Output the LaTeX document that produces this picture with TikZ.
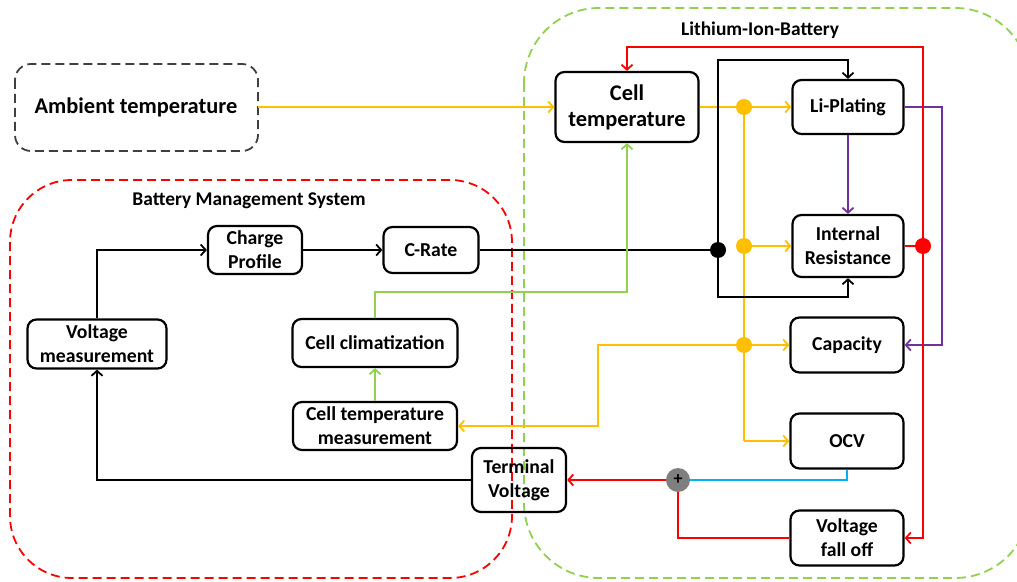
\documentclass[tikz,border=0pt]{standalone}
\usepackage{fontspec}
\setmainfont{Carlito}
\usetikzlibrary{arrows.meta}
\definecolor{ylw}{HTML}{FFC000}
\definecolor{grn}{HTML}{92D050}
\definecolor{rd}{HTML}{FF0000}
\definecolor{purp}{HTML}{7030A0}
\definecolor{blu}{HTML}{00B0F0}
\definecolor{gry}{HTML}{7F7F7F}
\definecolor{dgry}{HTML}{404040}
\begin{document}
\begin{tikzpicture}[x=1bp,y=-1bp,
  box/.style={draw,line width=2.2bp,rounded corners=9bp,align=center,inner sep=0pt,
    font=\bfseries\fontsize{19.8}{24}\selectfont},
  bigbox/.style={box,font=\bfseries\fontsize{22.5}{26}\selectfont},
  wire/.style={line width=2bp},
  arr/.style={wire,-{Straight Barb[length=5bp,width=11bp,line width=1.8bp]}},
  jdot/.style={circle,fill,inner sep=0pt,minimum size=16bp},
  cont/.style={line width=1.8bp,dash pattern=on 9bp off 5bp},
  lbl/.style={font=\bfseries\fontsize{19.5}{22}\selectfont}]
\useasboundingbox (0,0) rectangle (1017,582);
% containers
\draw[cont,rd,rounded corners=62bp] (10,180) rectangle (512,578);
\draw[cont,grn,rounded corners=75bp] (524,8) rectangle (1030,578);
\draw[cont,dgry,rounded corners=16bp] (15,64) rectangle (258,151);
\node[lbl] (lblbms) at (249,201) {Battery Management System};
\node[lbl] (lbllib) at (760,30) {Lithium-Ion-Battery};
% nodes
\node[bigbox,draw=none] (amb) at (136,107) {Ambient temperature};
\node[bigbox,minimum width=143bp,minimum height=70bp] (ct) at (627,107) {Cell\\temperature};
\node[box,minimum width=111bp,minimum height=54bp] (li) at (848,107) {Li-Plating};
\node[box,minimum width=111bp,minimum height=62bp] (ir) at (848,246) {Internal\\Resistance};
\node[box,minimum width=113bp,minimum height=55bp] (cap) at (847,345) {Capacity};
\node[box,minimum width=113bp,minimum height=55bp] (ocv) at (847,441) {OCV};
\node[box,minimum width=113bp,minimum height=55bp] (vfo) at (847,538) {Voltage\\fall off};
\node[box,minimum width=94bp,minimum height=64bp] (tv) at (519,480) {Terminal\\Voltage};
\node[box,minimum width=139bp,minimum height=49bp] (vm) at (97,344) {Voltage\\measurement};
\node[box,minimum width=94bp,minimum height=48bp] (cp) at (255,250) {Charge\\Profile};
\node[box,minimum width=95bp,minimum height=46bp] (cr) at (431,250) {C-Rate};
\node[box,minimum width=165bp,minimum height=48bp] (cc) at (375,343) {Cell climatization};
\node[box,minimum width=164bp,minimum height=48bp] (ctm) at (375,426) {Cell temperature\\measurement};
% junctions
\node[jdot,ylw] (y1) at (744,107) {};
\node[jdot,ylw] (y2) at (744,246) {};
\node[jdot,ylw] (y3) at (744,345) {};
\node[jdot,black] (bk) at (718,250) {};
\node[jdot,rd] (rdot) at (923,246) {};
\coordinate (yb) at (744,441);
\coordinate (yk) at (598,345);
\coordinate (bt) at (718,60);
\coordinate (bb) at (718,297);
\coordinate (pk) at (942,107);
\coordinate (rt) at (923,47);
\coordinate (rb) at (923,538);
\coordinate (gk) at (375,292);
\coordinate (ae) at (258,107);
% yellow
\draw[arr,ylw] (ae) -- (ct.west);
\draw[wire,ylw] (ct.east) -- (y1.center);
\draw[arr,ylw] (y1.center) -- (li.west);
\draw[wire,ylw] (y1.center) -- (yb);
\draw[arr,ylw] (yb) -- (ocv.west);
\draw[arr,ylw] (y2.center) -- (ir.west);
\draw[arr,ylw] (y3.center) -- (cap.west);
\draw[arr,ylw] (y3.center) -- (yk) |- (ctm.east);
% black
\draw[wire] (cr.east) -- (bk.center);
\draw[arr] (bk.center) -- (bt) -| (li.north);
\draw[arr] (bk.center) -- (bb) -| (ir.south);
\draw[arr] (tv.west) -| (vm.south);
\draw[arr] (vm.north) |- (cp.west);
\draw[arr] (cp.east) -- (cr.west);
% purple
\draw[arr,purp] (li.south) -- (ir.north);
\draw[arr,purp] (li.east) -- (pk) |- (cap.east);
% red
\draw[wire,rd] (ir.east) -- (rdot.center);
\draw[arr,rd] (rdot.center) -- (rt) -| (ct.north);
\draw[arr,rd] (rdot.center) -- (rb) -- (vfo.east);
% green
\draw[arr,grn] (ctm.north) -- (cc.south);
\draw[arr,grn] (cc.north) -- (gk) -| (ct.south);
% sum
\node[circle,fill=gry,inner sep=0pt,minimum size=24bp,font=\bfseries\fontsize{18}{18}\selectfont] (plus) at (678,480) {+};
\draw[wire,rd] (vfo.west) -| (plus.south);
\draw[wire,blu] (ocv.south) |- (plus.east);
\draw[arr,rd] (plus.west) -- (tv.east);
\end{tikzpicture}
\end{document}
